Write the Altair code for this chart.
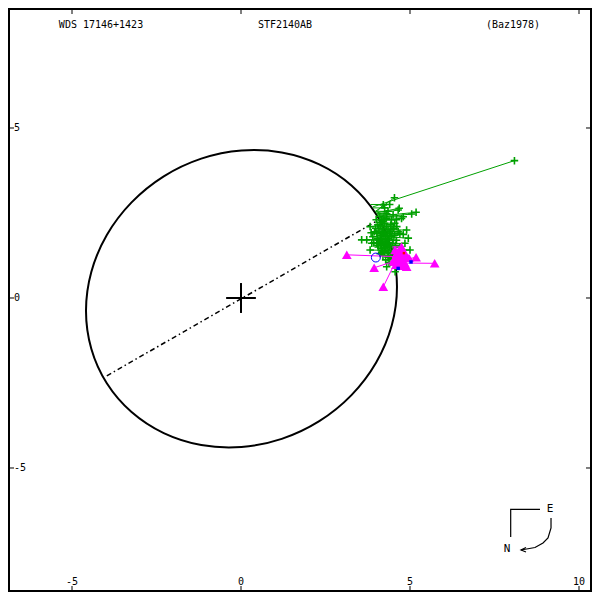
import altair as alt
import pandas as pd

# ---------------- data (data units) ----------------
orbit_x = [4.615, 4.459, 3.999, 3.268, 2.315, 1.205, 0.015, -1.176, -2.286, -3.238, -3.970, -4.429,
           -4.586, -4.429, -3.970, -3.238, -2.286, -1.176, 0.015, 1.205, 2.315, 3.268, 3.999, 4.459]
orbit_y = [0.331, 1.447, 2.464, 3.311, 3.931, 4.282, 4.339, 4.099, 3.578, 2.812, 1.853, 0.766,
           -0.375, -1.492, -2.508, -3.355, -3.975, -4.326, -4.383, -4.143, -3.622, -2.856, -1.897, -0.810]

apsides_x = [-3.97, 4.06]
apsides_y = [-2.29, 2.29]

green_x = [8.09, 4.54, 4.21, 4.65, 5.18, 5.05, 4.75, 3.82, 4.90, 4.80, 4.95, 3.57, 3.72, 3.87,
           3.82, 5.00, 4.31, 4.56, 4.68, 4.80, 4.02, 4.70, 4.85, 4.61, 4.80,
           4.10, 4.15, 4.20, 4.25, 4.05, 4.30, 4.18, 4.35, 4.22, 4.40, 4.12, 4.28, 4.45, 4.20,
           4.38, 4.10, 4.30, 4.48, 4.22, 4.40, 4.15, 4.32, 4.50, 4.25, 4.42, 4.20, 4.35, 4.28,
           4.45, 4.38, 4.00, 3.95, 3.90, 4.55, 4.60, 4.50, 4.35, 4.25, 4.40, 4.65, 4.60, 4.70,
           4.08, 4.15, 4.05, 4.12, 4.30, 4.45, 4.52, 4.55, 4.25, 4.35,
           3.98, 4.02, 4.08, 4.14, 4.18, 4.24, 4.33, 4.37, 4.43, 4.47, 4.03, 4.11, 4.19, 4.27,
           4.36, 4.44, 3.93, 4.06, 4.16, 4.26, 4.34, 4.42, 4.50, 4.13, 4.23, 4.31, 3.85, 4.57]
green_y = [4.04, 2.95, 2.74, 2.59, 2.52, 2.47, 2.34, 2.10, 2.00, 1.87, 1.76, 1.71, 1.71, 1.61,
           1.41, 1.41, 0.92, 0.77, 2.64, 2.39, 1.61, 1.90, 1.61, 2.10, 1.41,
           2.40, 2.30, 2.25, 2.20, 2.15, 2.10, 2.05, 2.00, 1.95, 1.90, 1.85, 1.80, 1.80, 1.72,
           1.70, 1.65, 1.60, 1.60, 1.55, 1.50, 1.45, 1.40, 1.40, 1.35, 1.30, 1.25, 1.20, 1.12,
           1.15, 1.05, 2.30, 1.95, 1.80, 2.20, 2.30, 2.45, 2.55, 2.65, 2.75, 1.95, 1.70, 1.50,
           2.00, 1.75, 1.55, 1.30, 2.35, 2.30, 2.05, 1.85, 1.50, 1.75,
           2.05, 1.90, 1.70, 1.58, 1.92, 1.88, 1.85, 1.62, 2.15, 2.02, 1.75, 2.22, 1.40, 1.48,
           1.33, 1.22, 1.62, 1.50, 1.35, 1.65, 1.55, 1.95, 1.70, 2.12, 2.30, 2.48, 1.92, 1.55]
green_ox = [3.90, 3.98, 4.00, 4.03, 4.06, 4.08, 4.11, 4.20, 4.26, 4.31, 4.34, 4.37, 4.38, 4.41,
            4.48, 4.48, 4.56, 4.57, 4.00, 4.08, 4.41, 4.31, 4.41, 4.21, 4.48,
            4.06, 4.11, 4.13, 4.16, 4.18, 4.21, 4.23, 4.26, 4.28, 4.31, 4.33, 4.34, 4.34, 4.37,
            4.38, 4.40, 4.41, 4.41, 4.43, 4.44, 4.46, 4.48, 4.48, 4.50, 4.51, 4.52, 4.52, 4.54,
            4.53, 4.55, 4.11, 4.28, 4.34, 4.16, 4.11, 4.04, 3.97, 3.90, 3.83, 4.28, 4.38, 4.44,
            4.26, 4.36, 4.43, 4.51, 4.08, 4.11, 4.23, 4.33, 4.44, 4.36,
            4.23, 4.31, 4.38, 4.41, 4.30, 4.32, 4.33, 4.41, 4.18, 4.25, 4.36, 4.14, 4.48, 4.45,
            4.50, 4.52, 4.41, 4.44, 4.50, 4.40, 4.43, 4.28, 4.38, 4.19, 4.11, 4.02, 4.30, 4.43]
green_oy = [2.68, 2.55, 2.52, 2.47, 2.41, 2.37, 2.31, 2.12, 2.00, 1.90, 1.80, 1.72, 1.70, 1.60,
            1.40, 1.40, 1.00, 0.90, 2.50, 2.38, 1.60, 1.90, 1.60, 2.10, 1.40,
            2.40, 2.30, 2.25, 2.20, 2.15, 2.10, 2.05, 2.00, 1.95, 1.90, 1.85, 1.80, 1.80, 1.72,
            1.70, 1.65, 1.60, 1.60, 1.55, 1.50, 1.45, 1.40, 1.40, 1.35, 1.30, 1.25, 1.20, 1.12,
            1.15, 1.05, 2.30, 1.95, 1.80, 2.20, 2.30, 2.45, 2.55, 2.65, 2.75, 1.95, 1.70, 1.50,
            2.00, 1.75, 1.55, 1.30, 2.35, 2.30, 2.05, 1.85, 1.50, 1.75,
            2.05, 1.90, 1.70, 1.58, 1.92, 1.88, 1.85, 1.62, 2.15, 2.02, 1.75, 2.22, 1.40, 1.48,
            1.33, 1.22, 1.62, 1.50, 1.35, 1.65, 1.55, 1.95, 1.70, 2.12, 2.30, 2.48, 1.92, 1.55]

mag_x = [3.13, 3.94, 4.21, 5.18, 5.73, 4.65, 4.85, 4.51, 4.90, 4.56, 4.75, 4.70, 4.59, 4.97,
         4.62, 4.70, 4.78, 4.60, 4.68, 4.75, 4.82, 4.55, 4.86, 4.66, 4.74, 4.58]
mag_y = [1.27, 0.89, 0.33, 1.20, 1.02, 1.27, 1.02, 1.07, 0.92, 1.41, 1.51, 1.32, 1.07, 1.18,
         1.20, 1.15, 1.10, 1.30, 1.00, 0.95, 1.22, 1.18, 1.30, 1.38, 1.40, 0.98]
mag_ox = [4.50, 4.47, 4.50, 4.58, 4.62, 4.52, 4.57, 4.56, 4.58, 4.49, 4.47, 4.51, 4.56, 4.55,
          4.53, 4.54, 4.55, 4.51, 4.56, 4.57, 4.53, 4.54, 4.51, 4.49, 4.48, 4.56]
mag_oy = [1.22, 1.06, 0.92, 1.06, 1.03, 1.25, 1.05, 1.10, 0.95, 1.40, 1.50, 1.30, 1.07, 1.15,
          1.20, 1.15, 1.10, 1.30, 1.00, 0.95, 1.22, 1.18, 1.30, 1.38, 1.40, 0.98]

circle_x = [3.99]
circle_y = [1.19]
blue_x = [4.65, 5.03]
blue_y = [0.87, 1.06]
red_x = [4.82]
red_y = [1.32]

compass_seg = ["a", "a", "a", "b", "b", "b", "b", "b", "b", "c", "c", "c"]
compass_x = [8.846, 7.979, 7.979, 9.172, 9.172, 9.083, 8.935, 8.698, 8.284, 8.432, 8.284, 8.432]
compass_y = [-6.215, -6.215, -7.029, -6.471, -6.765, -7.059, -7.206, -7.338, -7.412, -7.338, -7.412, -7.471]
compass_lbl = ["E", "N"]
compass_lbl_x = [9.142, 7.870]
compass_lbl_y = [-6.206, -7.382]

x_ticks = [-5, 0, 5, 10]
y_ticks = [-5, 0, 5]
titles = ["WDS 17146+1423", "STF2140AB", "(Baz1978)"]
title_px = [93, 277, 505]

# ---------------- scales ----------------
W = H = 584
xs = alt.Scale(domain=[-6.8935, 10.3846], nice=False, zero=False)
ys = alt.Scale(domain=[-8.6471, 8.5294], nice=False, zero=False)
FONT = "DejaVu Sans Mono"
GREEN = "#00a000"
MAG = "#ff00ff"


def X(f="x"):
    return alt.X(f + ":Q", scale=xs, axis=None)


def Y(f="y"):
    return alt.Y(f + ":Q", scale=ys, axis=None)


orbit_df = pd.DataFrame({"x": orbit_x, "y": orbit_y, "o": range(len(orbit_x))})
orbit = alt.Chart(orbit_df).mark_line(color="black", strokeWidth=2, interpolate="cardinal-closed").encode(
    x=X(), y=Y(), order="o:Q")

aps = alt.Chart(pd.DataFrame({"x": apsides_x, "y": apsides_y})).mark_line(
    color="black", strokeWidth=1.5, strokeDash=[5, 3, 1.5, 3]).encode(x=X(), y=Y())

cross_df = pd.DataFrame({"x": [-0.44, 0.0], "x2": [0.44, 0.0], "y": [0.0, -0.44], "y2": [0.0, 0.44]})
cross = alt.Chart(cross_df).mark_rule(color="black", strokeWidth=2).encode(
    x=X(), x2="x2:Q", y=Y(), y2="y2:Q")

g_df = pd.DataFrame({"x": green_x, "y": green_y, "ox": green_ox, "oy": green_oy})
g_lines = alt.Chart(g_df).mark_rule(color=GREEN, strokeWidth=1).encode(x=X(), y=Y(), x2="ox:Q", y2="oy:Q")
g_pts = alt.Chart(g_df).mark_point(shape="M-1,0H1M0,-1V1", size=56, strokeWidth=1.6,
                                   color=GREEN, filled=False, opacity=1).encode(x=X(), y=Y())

m_df = pd.DataFrame({"x": mag_x, "y": mag_y, "ox": mag_ox, "oy": mag_oy})
m_lines = alt.Chart(m_df).mark_rule(color=MAG, strokeWidth=1).encode(x=X(), y=Y(), x2="ox:Q", y2="oy:Q")
m_pts = alt.Chart(m_df).mark_point(shape="triangle-up", size=95, filled=True, color=MAG,
                                   opacity=1).encode(x=X(), y=Y())

circ = alt.Chart(pd.DataFrame({"x": circle_x, "y": circle_y})).mark_point(
    shape="circle", size=80, color="#0000ff", strokeWidth=1, filled=False, opacity=1).encode(x=X(), y=Y())
blue = alt.Chart(pd.DataFrame({"x": blue_x, "y": blue_y})).mark_point(
    shape="square", size=12, color="#0000ff", filled=True, opacity=1).encode(x=X(), y=Y())
red = alt.Chart(pd.DataFrame({"x": red_x, "y": red_y})).mark_point(
    shape="square", size=6, color="#ff0000", filled=True, opacity=1).encode(x=X(), y=Y())

comp_df = pd.DataFrame({"x": compass_x, "y": compass_y, "s": compass_seg, "o": range(len(compass_x))})
compass = alt.Chart(comp_df).mark_line(color="black", strokeWidth=1.2).encode(
    x=X(), y=Y(), detail="s:N", order="o:Q")
comp_txt = alt.Chart(pd.DataFrame({"x": compass_lbl_x, "y": compass_lbl_y, "t": compass_lbl})).mark_text(
    font=FONT, fontSize=11, color="black").encode(x=X(), y=Y(), text="t:N")

title_df = pd.DataFrame({"t": titles, "px": title_px})
title_txt = alt.Chart(title_df).mark_text(font=FONT, fontSize=10, color="black", baseline="middle").encode(
    x=alt.X("px:Q", scale=None, axis=None), y=alt.value(17), text="t:N")

xt_df = pd.DataFrame({"x": x_ticks, "t": [str(v) for v in x_ticks]})
yt_df = pd.DataFrame({"y": y_ticks, "t": [str(v) for v in y_ticks]})
xt_bot = alt.Chart(xt_df).mark_rule(color="black", strokeWidth=1).encode(x=X(), y=alt.value(H), y2=alt.value(H - 6))
xt_top = alt.Chart(xt_df).mark_rule(color="black", strokeWidth=1).encode(x=X(), y=alt.value(0), y2=alt.value(6))
yt_l = alt.Chart(yt_df).mark_rule(color="black", strokeWidth=1).encode(y=Y(), x=alt.value(0), x2=alt.value(6))
yt_r = alt.Chart(yt_df).mark_rule(color="black", strokeWidth=1).encode(y=Y(), x=alt.value(W), x2=alt.value(W - 6))
xl = alt.Chart(xt_df).mark_text(font=FONT, fontSize=10, color="black", baseline="middle").encode(
    x=X(), y=alt.value(574), text="t:N")
yl = alt.Chart(yt_df).mark_text(font=FONT, fontSize=10, color="black", baseline="middle", align="left").encode(
    y=Y(), x=alt.value(6), text="t:N")

chart = alt.layer(
    orbit, aps, cross, g_lines, g_pts, m_lines, m_pts, circ, blue, red,
    compass, comp_txt, title_txt, xt_bot, xt_top, yt_l, yt_r, xl, yl
).properties(width=W, height=H, padding=0, autosize="none", background="white").configure_view(
    stroke="black", strokeWidth=4)

chart.save("out.html", embed_options={"renderer": "svg", "actions": False})
